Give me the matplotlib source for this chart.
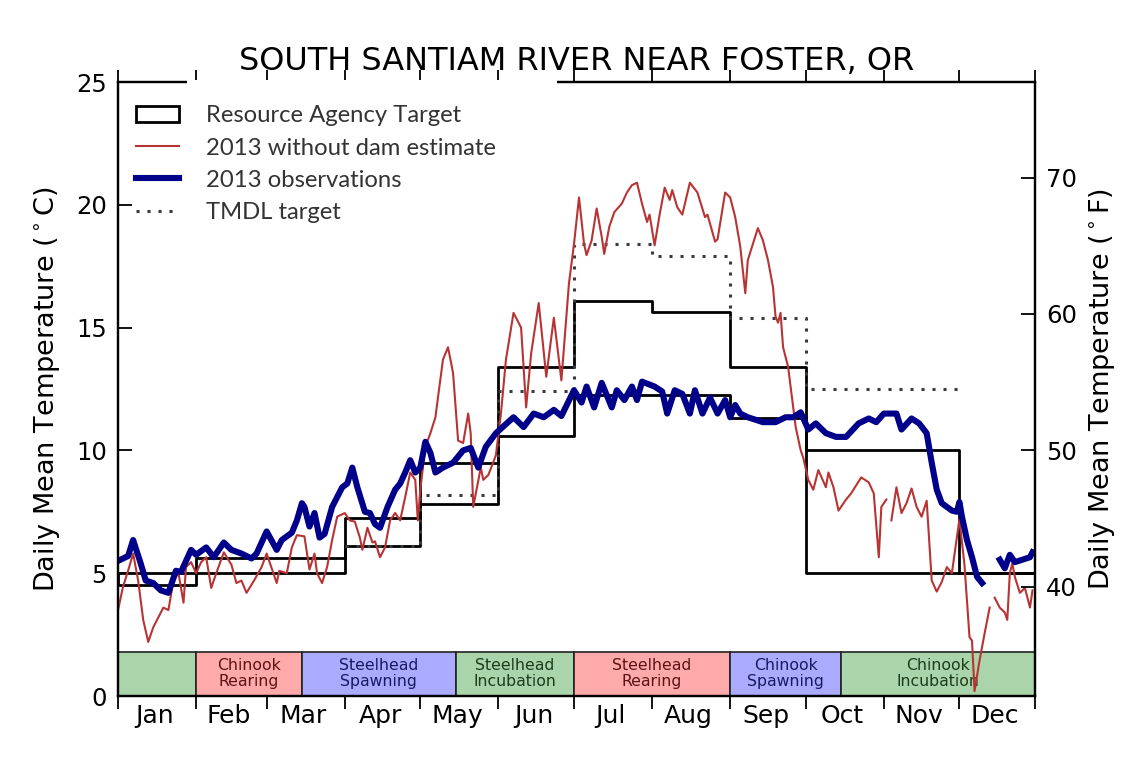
import numpy as np
import matplotlib.pyplot as plt
from matplotlib.patches import Rectangle

## Data (day of year 2013, Jan 1 = 0)

months = ['Jan', 'Feb', 'Mar', 'Apr', 'May', 'Jun',
          'Jul', 'Aug', 'Sep', 'Oct', 'Nov', 'Dec']
month_start = [0, 31, 59, 90, 120, 151, 181, 212, 243, 273, 304, 334]
year_end = 364

# 2013 observations (deg C)
obs_day = [0, 4, 6, 9, 11, 14, 17, 20, 23, 25,
           29, 31, 35, 38, 42, 45, 49, 53, 55, 59,
           63, 65, 69, 71, 73, 74, 76, 78, 80, 82,
           85, 89, 91, 93, 95, 98, 100, 102, 104, 107,
           110, 112, 114, 116, 118, 120, 122, 124, 126, 129,
           133, 137, 140, 143, 146, 150, 157, 161, 165, 169,
           173, 176, 181, 184, 186, 189, 192, 196, 198, 201,
           204, 206, 208, 213, 216, 218, 221, 224, 227, 229,
           232, 235, 238, 241, 243, 245, 247, 250, 256, 261,
           265, 268, 271, 274, 277, 281, 285, 289, 294, 298,
           301, 304, 309, 311, 315, 318, 321, 323, 325, 327,
           331, 333, 334, 335, 337, 339, 341, 343, 346, 350,
           352, 354, 356, 359, 362, 363]
obs_temp = [5.5, 5.7, 6.35, 5.4, 4.7, 4.6, 4.3, 4.2, 5.1, 5.05,
            5.95, 5.75, 6.05, 5.65, 6.25, 5.95, 5.8, 5.6, 5.8, 6.7,
            5.95, 6.35, 6.65, 7.15, 7.85, 7.7, 6.9, 7.45, 6.45, 6.6,
            7.7, 8.5, 8.65, 9.3, 8.5, 7.5, 7.45, 7.0, 6.85, 7.7,
            8.4, 8.65, 9.1, 9.6, 9.1, 9.3, 10.35, 9.9, 9.1, 9.3,
            9.5, 10.0, 10.1, 9.3, 10.15, 10.7, 11.35, 10.95, 11.5, 11.35,
            11.65, 11.4, 12.45, 11.95, 12.6, 11.75, 12.75, 11.75, 12.45, 12.05,
            12.6, 12.05, 12.8, 12.6, 12.4, 11.5, 12.45, 12.3, 11.5, 12.45,
            11.5, 12.15, 11.5, 12.05, 11.35, 11.85, 11.5, 11.35, 11.15, 11.15,
            11.35, 11.35, 11.55, 10.85, 11.1, 10.7, 10.55, 10.55, 11.1, 11.3,
            11.15, 11.5, 11.5, 10.85, 11.3, 11.1, 10.7, 9.5, 8.4, 7.85,
            7.55, 7.5, 7.9, 7.3, 6.35, 5.65, 4.85, 4.6, np.nan, 5.55,
            5.2, 5.75, 5.45, 5.55, 5.65, 5.85]

# 2013 without dam estimate (deg C)
est_day = [0, 2, 4, 6, 8, 10, 12, 14, 16, 18,
           20, 22, 24, 26, 27, 29, 31, 33, 35, 37,
           39, 42, 45, 47, 49, 51, 54, 57, 59, 63,
           64, 67, 69, 71, 74, 76, 78, 79, 81, 83,
           85, 87, 90, 92, 94, 96, 97, 99, 101, 102,
           104, 106, 108, 110, 112, 114, 116, 118, 119, 120,
           122, 124, 126, 127, 129, 131, 133, 134, 135, 137,
           139, 140, 141, 144, 145, 147, 150, 152, 154, 157,
           160, 162, 164, 167, 170, 173, 176, 179, 181, 183,
           185, 186, 188, 190, 192, 193, 195, 197, 200, 202,
           204, 206, 208, 210, 211, 213, 215, 217, 219, 220,
           222, 224, 227, 230, 233, 234, 237, 238, 241, 243,
           245, 247, 249, 250, 254, 256, 258, 260, 261, 262,
           263, 264, 266, 269, 271, 272, 274, 276, 278, 281,
           282, 284, 286, 289, 291, 295, 298, 300, 302, 303,
           305, 306, 307, 309, 311, 313, 315, 317, 319, 321,
           323, 325, 327, 329, 331, 334, 336, 338, 339, 340,
           342, 344, 346, 347, 348, 349, 350, 352, 353, 354,
           355, 356, 358, 360, 362, 363]
est_temp = [3.5, 4.45, 5.1, 5.8, 4.7, 3.1, 2.2, 2.8, 3.2, 3.6,
            3.5, 4.7, 5.0, 3.8, 5.25, 5.45, 5.0, 5.45, 5.65, 4.4,
            5.0, 5.85, 5.35, 4.6, 4.7, 4.2, 4.7, 5.25, 5.8, 4.6,
            5.1, 5.0, 6.05, 6.55, 6.5, 5.15, 5.8, 5.0, 4.6, 5.25,
            6.35, 7.3, 7.45, 7.15, 7.1, 6.45, 5.95, 6.85, 6.25, 6.3,
            5.65, 6.05, 7.15, 7.45, 7.15, 8.1, 9.1, 8.8, 7.15, 8.4,
            10.15, 10.7, 11.35, 12.15, 13.7, 14.2, 13.15, 11.75, 10.4, 10.3,
            11.5, 10.7, 7.7, 9.3, 8.8, 9.0, 9.8, 11.5, 13.7, 15.6,
            15.0, 11.75, 13.95, 16.0, 13.0, 15.4, 12.85, 16.8, 18.4, 20.3,
            18.4, 17.95, 18.55, 19.85, 18.7, 18.0, 19.1, 19.7, 20.05, 20.5,
            20.8, 20.9, 20.05, 19.3, 19.6, 18.35, 19.6, 20.7, 20.2, 20.6,
            19.9, 19.6, 20.9, 20.5, 19.5, 19.6, 18.5, 18.6, 20.5, 20.3,
            19.5, 18.3, 16.4, 17.75, 19.05, 18.55, 17.75, 16.65, 15.45, 15.2,
            15.6, 14.2, 13.4, 10.95, 10.0, 9.7, 8.8, 8.4, 9.2, 8.5,
            9.1, 8.5, 7.55, 8.0, 8.25, 8.9, 8.7, 8.25, 5.65, 7.7,
            8.0, np.nan, 7.15, 8.5, 7.45, 7.85, 8.45, 7.7, 7.3, 7.95,
            4.7, 4.25, 4.65, 5.25, 5.0, 7.2, 5.35, 2.4, 2.25, 0.2,
            1.45, 2.55, 3.6, np.nan, 4.0, 3.8, 3.6, 3.4, 3.1, 5.0,
            5.4, 4.85, 4.2, 4.4, 3.6, 4.3]

# Resource agency target range, one value per month
target_upper = [5.0, 5.6, 5.6, 7.25, 9.5, 13.4, 16.1, 15.65, 13.4, 10.0, 10.0, 5.0]
target_lower = [4.5, 5.0, 5.0, 6.1, 7.8, 10.6, 12.25, 12.25, 11.3, 5.0, 5.0, 5.0]

# TMDL target, Apr - Nov
tmdl_edges = [90, 120, 151, 181, 212, 243, 273, 304, 334]
tmdl_temp = [6.1, 8.2, 12.4, 18.4, 17.9, 15.4, 12.5, 12.5]

# life stage periods
periods = ['', 'Chinook\nRearing', 'Steelhead\nSpawning', 'Steelhead\nIncubation',
           'Steelhead\nRearing', 'Chinook\nSpawning', 'Chinook\nIncubation']
period_start = [0, 31, 73, 134, 181, 243, 287]
period_kind = ['inc', 'rear', 'spawn', 'inc', 'rear', 'spawn', 'inc']

band_color = {'inc': '#aad5aa', 'rear': '#ffaaaa', 'spawn': '#aaaaff'}
band_text = {'inc': '#1c3d1c', 'rear': '#5a1414', 'spawn': '#1a1a5e'}

## Plot

fig = plt.figure(figsize=(11.25, 7.7), dpi=100)
ax = fig.add_axes([0.1049, 0.0961, 0.8151, 0.7974])

edges = month_start + [year_end]
p_edges = period_start + [year_end]
widths = np.diff(p_edges)
ax.bar(period_start, 1.8, width=widths, align='edge',
       color=[band_color[k] for k in period_kind],
       edgecolor='#222222', linewidth=1.2, zorder=1)
for s, w, lab, k in zip(period_start, widths, periods, period_kind):
    ax.text(s + w / 2, 0.9, lab, ha='center', va='center', fontsize=11.3,
            color=band_text[k], linespacing=1.1, zorder=1.5)

rat = ax.fill_between(edges, target_lower + target_lower[-1:],
                      target_upper + target_upper[-1:], step='post',
                      facecolor='none', edgecolor='k', linewidth=2,
                      zorder=2, label='Resource Agency Target')
tmdl, = ax.plot(tmdl_edges, tmdl_temp + tmdl_temp[-1:], drawstyle='steps-post',
                color='#3a3a3a', linewidth=2.2, linestyle=(0, (1, 2.6)),
                zorder=2, label='TMDL target')
est, = ax.plot(est_day, est_temp, color='#b83434', linewidth=1.5,
               zorder=3, label='2013 without dam estimate')
obs, = ax.plot(obs_day, obs_temp, color='#00008b', linewidth=4.4,
               solid_joinstyle='round', zorder=4, label='2013 observations')

ax.set_xlim(0, year_end)
ax.set_ylim(0, 25)
ax.set_yticks([0, 5, 10, 15, 20, 25])
ax.set_xticks(edges)
ax.set_xticklabels([])
mid = [(a + b) / 2 - 1 for a, b in zip(edges[:-1], edges[1:])]
ax.set_xticks(mid, minor=True)
ax.set_xticklabels(months, minor=True)
ax.tick_params(axis='x', which='major', direction='out', length=9, width=1.3,
               top=True)
ax.tick_params(axis='x', which='minor', length=0, labelsize=18, pad=6)
ax.tick_params(axis='y', direction='in', length=10, width=1.3, labelsize=17.5,
               right=False, pad=8)
for sp in ax.spines.values():
    sp.set_linewidth(1.6)

ax.set_ylabel('Daily Mean Temperature ($^\\circ$C)', fontsize=19.5, labelpad=10)
ax.set_title('SOUTH SANTIAM RIVER NEAR FOSTER, OR', fontsize=23, pad=9)

ax2 = ax.twinx()
ax2.set_ylim(0 * 9 / 5 + 32, 25 * 9 / 5 + 32)
ax2.set_yticks([40, 50, 60, 70])
ax2.tick_params(axis='y', direction='in', length=10, width=1.3, labelsize=17.5, pad=8)
ax2.set_ylabel('Daily Mean Temperature ($^\\circ$F)', fontsize=19.5, labelpad=7)
for sp in ax2.spines.values():
    sp.set_linewidth(1.6)

ax.legend(handles=[rat, est, obs, tmdl], loc='upper left',
          bbox_to_anchor=(0.02, 0.962), frameon=False, borderpad=0,
          borderaxespad=0, prop={'family': 'Lato', 'size': 17.2},
          labelcolor='#333333', handlelength=1.8, handletextpad=1.13,
          labelspacing=0.47)

# white patch over part of the top frame, as in the original
fig.add_artist(Rectangle((187 / 1125, 1 - 92 / 770), 370 / 1125, 12 / 770,
                         transform=fig.transFigure, facecolor='white',
                         edgecolor='none', zorder=3))

fig.savefig('out.png', dpi=100, facecolor='white')
